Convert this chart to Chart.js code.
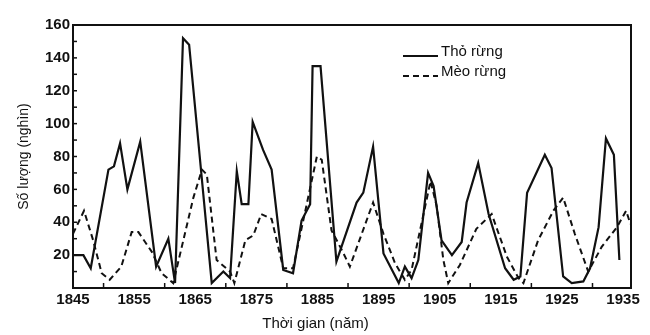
<html lang="vi">
<head>
  <meta charset="UTF-8">
  <title>Thỏ rừng và mèo rừng</title>
  <script src="https://cdn.jsdelivr.net/npm/chart.js"></script>
  <style>
    body { margin: 0; background: #fff; }
    canvas { display: block; }
  </style>
</head>
<body>
  <canvas id="chart" width="650" height="335"></canvas>

  <script>
    // values (thousands)
    const hareYears = [1845, 1846.7, 1847.9, 1850.8, 1851.7, 1852.7, 1853.9, 1856, 1858.6, 1860.6, 1861.7,
      1863, 1864, 1867.7, 1869.6, 1870.7, 1871.8, 1872.6, 1873.7, 1874.4, 1876.1, 1877.5, 1879.4, 1881,
      1882.4, 1883.8, 1884.2, 1885.5, 1888.1, 1891.4, 1892.5, 1894.1, 1895.8, 1898.3, 1899.3, 1900.4,
      1901.5, 1903.1, 1904, 1905.3, 1907, 1908.6, 1909.4, 1911.3, 1913, 1915.7, 1917.1, 1918.2, 1919.3,
      1922.2, 1923.3, 1925.2, 1926.6, 1928.5, 1929.6, 1931, 1932.2, 1933.5, 1934.4];
    const hareValues = [20, 20, 12, 72, 74, 88, 60, 89, 13, 30, 3,
      152, 148, 3, 10, 6, 71, 51, 51, 101, 84, 72, 11, 9,
      41, 51, 135, 135, 16, 52, 58, 86, 21, 3, 13, 6,
      17, 70, 62, 29, 20, 28, 52, 76, 45, 12, 5, 7, 58,
      81, 73, 7, 3, 4, 12, 37, 91, 81, 17];

    const lynxYears = [1845, 1846.8, 1848.3, 1849.7, 1851, 1852.9, 1854.6, 1855.7, 1857.9, 1859.5, 1861.4,
      1864.7, 1866.1, 1866.9, 1868.5, 1870.7, 1871.4, 1873.2, 1874.5, 1875.8, 1877.5, 1879.4, 1881,
      1882.9, 1884.9, 1885.7, 1887.3, 1889, 1890.3, 1894.1, 1895.8, 1897.7, 1899.3, 1900.4, 1903.5,
      1904.5, 1905.6, 1906.4, 1908.3, 1911, 1913.5, 1916, 1917.9, 1918.7, 1921.1, 1923.6, 1925.2,
      1927.1, 1929.3, 1931.5, 1934, 1935.5, 1936.2];
    const lynxValues = [33, 47, 29, 9, 5, 13, 34, 34, 22, 9, 3,
      55, 72, 69, 17, 10, 3, 29, 32, 45, 42, 12, 12,
      45, 80, 78, 35, 23, 13, 52, 33, 15, 5, 11, 65,
      50, 17, 3, 14, 36, 45, 19, 6, 3, 29, 47, 55,
      33, 10, 25, 37, 47, 39];

    const seriesNames = ["Thỏ rừng", "Mèo rừng"];
    const xLabelYears = [1845, 1855, 1865, 1875, 1885, 1895, 1905, 1915, 1925, 1935];
    const yLabels = [20, 40, 60, 80, 100, 120, 140, 160];

    const FONT = "'Liberation Sans', Arial, sans-serif";
    const INK = "#111";

    function toPoints(xs, ys) {
      return xs.map((x, i) => ({ x: x, y: ys[i] }));
    }

    // box round the plot and small inward ticks
    const framePlugin = {
      id: "frame",
      afterDraw(chart) {
        const { ctx, chartArea: a, scales } = chart;
        ctx.save();
        ctx.strokeStyle = INK;
        ctx.lineWidth = 2;
        ctx.strokeRect(a.left, a.top, a.right - a.left, a.bottom - a.top);
        ctx.lineWidth = 1.5;
        for (let v = 10; v < 160; v += 10) {
          const y = scales.y.getPixelForValue(v);
          ctx.beginPath();
          ctx.moveTo(a.left, y);
          ctx.lineTo(a.left + 4, y);
          ctx.stroke();
        }
        for (let yr = 1850; yr < 1936; yr += 10) {
          const x = scales.x.getPixelForValue(yr);
          ctx.beginPath();
          ctx.moveTo(x, a.bottom);
          ctx.lineTo(x, a.bottom - 5);
          ctx.stroke();
        }
        ctx.restore();
      }
    };

    const legendPlugin = {
      id: "innerLegend",
      afterDraw(chart) {
        const { ctx } = chart;
        ctx.save();
        ctx.font = "15px " + FONT;
        ctx.fillStyle = INK;
        ctx.textBaseline = "alphabetic";
        chart.data.datasets.forEach((ds, i) => {
          const base = 56 + i * 20;
          ctx.strokeStyle = ds.borderColor;
          ctx.lineWidth = 2;
          ctx.setLineDash(ds.borderDash || []);
          ctx.beginPath();
          ctx.moveTo(403, base);
          ctx.lineTo(438, base);
          ctx.stroke();
          ctx.setLineDash([]);
          ctx.fillText(ds.label, 441, base);
        });
        ctx.restore();
      }
    };

    new Chart(document.getElementById("chart"), {
      type: "line",
      data: {
        datasets: [
          {
            label: seriesNames[0],
            data: toPoints(hareYears, hareValues),
            borderColor: INK,
            borderWidth: 2.2,
            pointRadius: 0,
            tension: 0,
            fill: false
          },
          {
            label: seriesNames[1],
            data: toPoints(lynxYears, lynxValues),
            borderColor: INK,
            borderWidth: 2,
            borderDash: [6, 4],
            pointRadius: 0,
            tension: 0,
            fill: false
          }
        ]
      },
      options: {
        responsive: false,
        animation: false,
        layout: { padding: { top: 25, right: 19, left: 0, bottom: 0 } },
        plugins: {
          legend: { display: false },
          tooltip: { enabled: false },
          title: {
            display: true,
            position: "bottom",
            text: "Thời gian (năm)",
            color: INK,
            font: { family: FONT, size: 15, weight: "normal" },
            padding: { top: 0, bottom: 2 }
          }
        },
        scales: {
          x: {
            type: "linear",
            min: 1845,
            max: 1936.3,
            grid: { display: false, drawTicks: false },
            border: { display: false },
            afterFit(scale) { scale.height = 27; },
            ticks: {
              stepSize: 5,
              includeBounds: false,
              autoSkip: false,
              maxRotation: 0,
              padding: 3,
              color: INK,
              font: { family: FONT, size: 15, weight: "bold" },
              callback: v => xLabelYears.includes(v) ? String(v) : ""
            }
          },
          y: {
            min: 0,
            max: 160,
            grid: { display: false, drawTicks: false },
            border: { display: false },
            afterFit(scale) { scale.width = 73; },
            title: {
              display: true,
              text: "Số lượng (nghìn)",
              color: INK,
              font: { family: FONT, size: 14 },
              padding: { top: 16, bottom: 0 }
            },
            ticks: {
              stepSize: 10,
              autoSkip: false,
              padding: 3,
              color: INK,
              font: { family: FONT, size: 15, weight: "bold" },
              callback: v => yLabels.includes(v) ? String(v) : ""
            }
          }
        }
      },
      plugins: [framePlugin, legendPlugin]
    });
  </script>
</body>
</html>
